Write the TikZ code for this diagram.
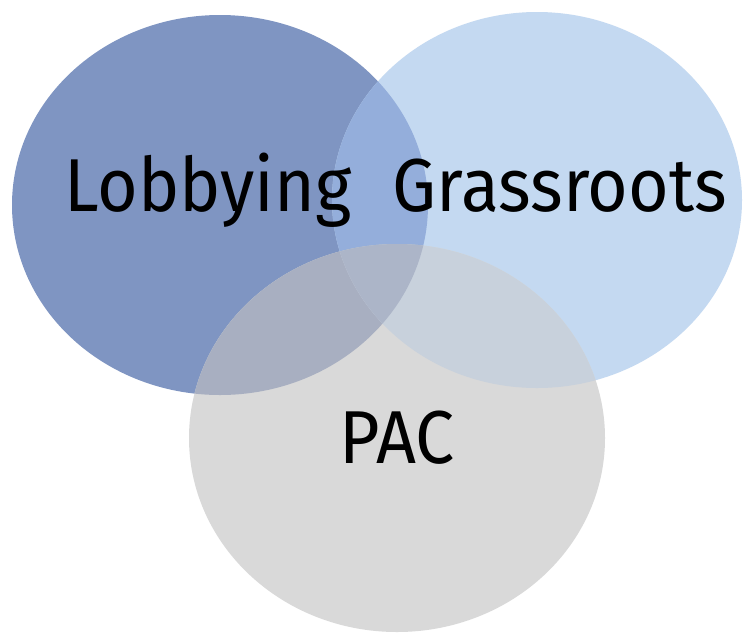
\documentclass[tikz,border=0pt]{standalone}
\usepackage{fontspec}
\setmainfont{Fira Sans}
\definecolor{lobcol}{HTML}{7F95C2}
\definecolor{grscol}{HTML}{C4D9F1}
\definecolor{paccol}{HTML}{D9D9D9}
\definecolor{lgcol}{HTML}{94AEDB}
\definecolor{lpcol}{HTML}{A8AFC1}
\definecolor{gpcol}{HTML}{C8D1DC}
\definecolor{allcol}{HTML}{ACB5C8}
\newcommand{\lobshape}{(220,205) ellipse [x radius=208, y radius=190]}
\newcommand{\grsshape}{(537,200) ellipse [x radius=205, y radius=188]}
\newcommand{\pacshape}{(397,438) ellipse [x radius=208, y radius=194]}
\begin{document}
\begin{tikzpicture}[x=1pt,y=-1pt,
  label text/.style={font=\fontsize{75}{80}\selectfont, text=black, inner sep=0pt, anchor=base, xscale=0.93}]
\useasboundingbox (0,0) rectangle (743,633);
\fill[white] (0,0) rectangle (743,633);
% single discs
\fill[lobcol] \lobshape;
\fill[grscol] \grsshape;
\fill[paccol] \pacshape;
% pairwise overlaps
\begin{scope}\clip \lobshape; \fill[lgcol] \grsshape; \end{scope}
\begin{scope}\clip \lobshape; \fill[lpcol] \pacshape; \end{scope}
\begin{scope}\clip \grsshape; \fill[gpcol] \pacshape; \end{scope}
% centre where all three meet
\begin{scope}\clip \lobshape; \clip \grsshape; \fill[allcol] \pacshape; \end{scope}
% labels
\node[label text] (lob) at (208,211) {Lobbying};
\node[label text] (grs) at (560,211) {Grassroots};
\node[label text] (pac) at (397,463) {PAC};
\end{tikzpicture}
\end{document}
